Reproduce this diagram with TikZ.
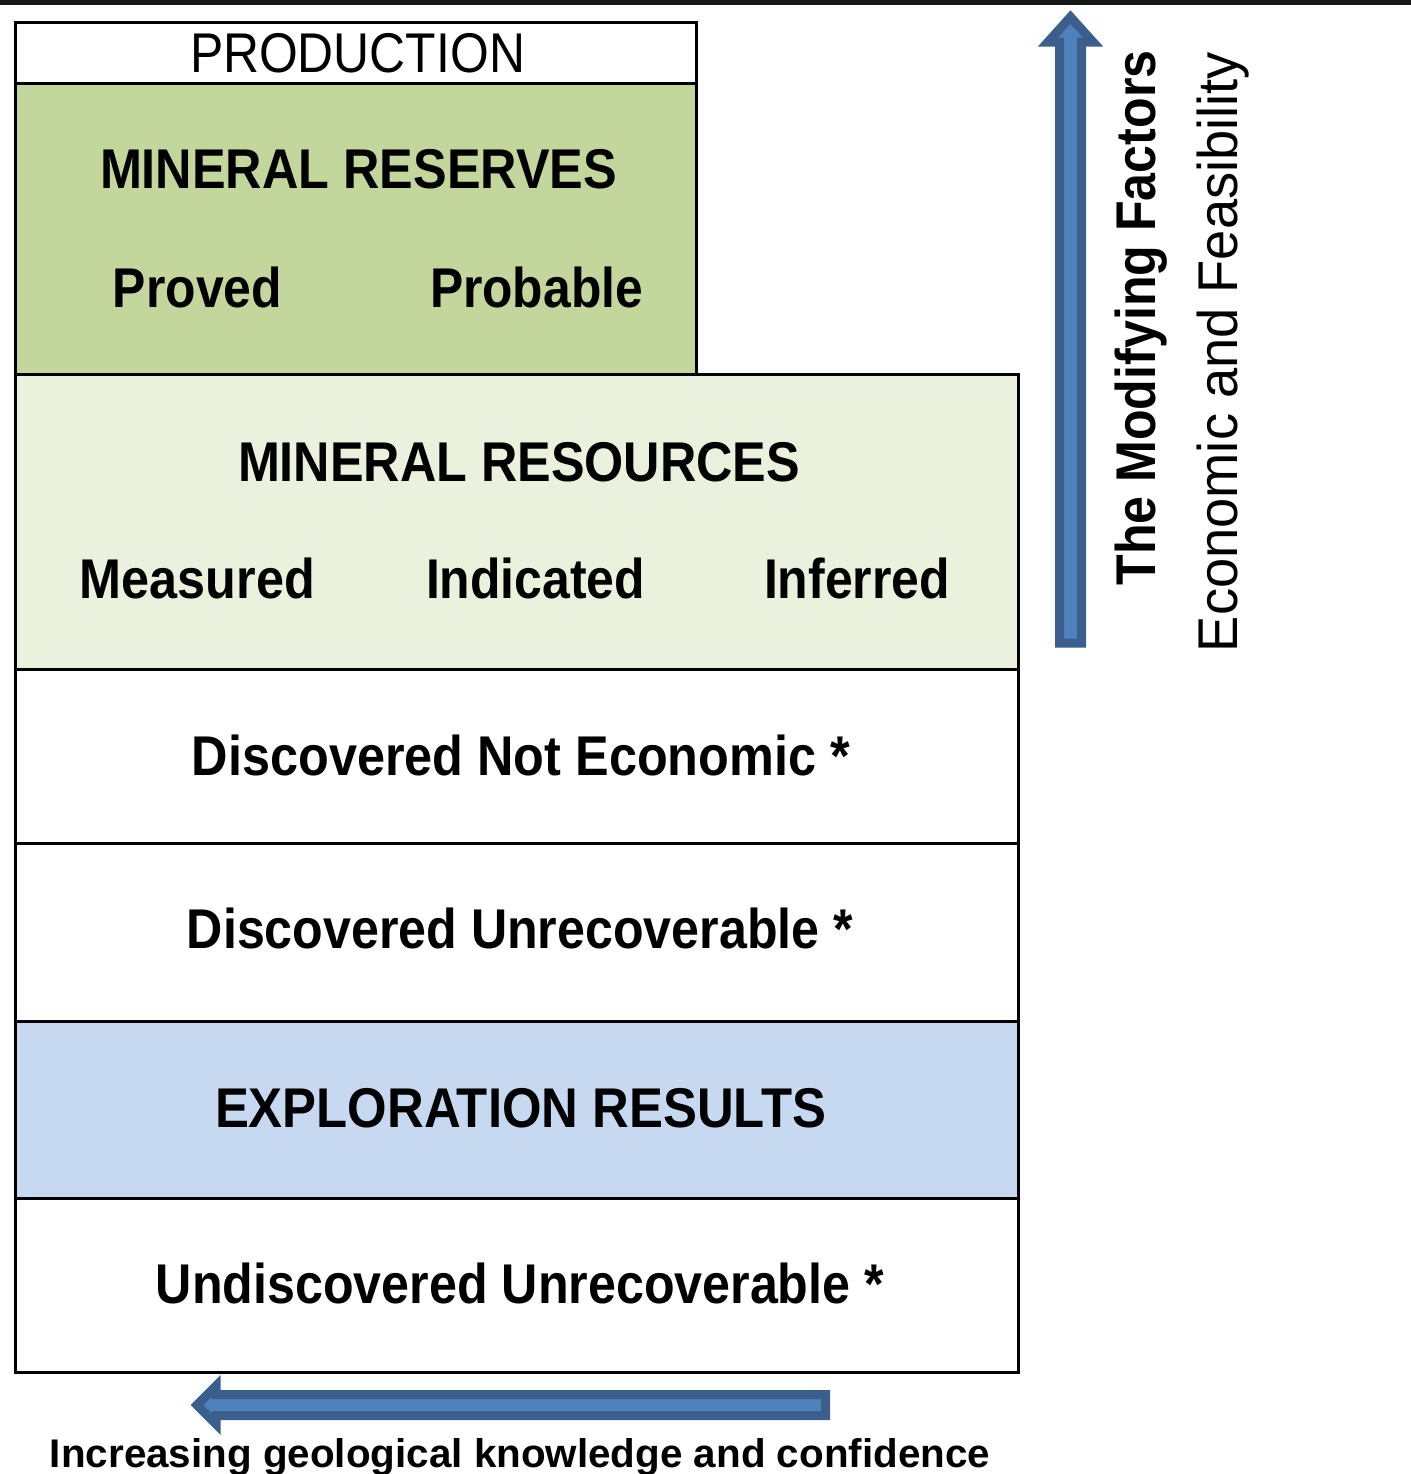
\documentclass[tikz,border=0pt]{standalone}
\usepackage{fontspec}
\setmainfont{Liberation Sans}
\usepackage{graphicx}
\definecolor{reservegreen}{HTML}{C3D69B}
\definecolor{resourcegreen}{HTML}{EAF1DD}
\definecolor{explblue}{HTML}{C6D9F1}
\definecolor{arrowfill}{HTML}{4F81BD}
\definecolor{arrowedge}{HTML}{3A5F8C}
\definecolor{topbar}{HTML}{141814}
\newcommand\fitw[2]{\resizebox{#1pt}{\height}{#2}}
\tikzset{
  box/.style={draw=black, line width=1.5pt, rectangle, inner sep=0pt},
  lbl/.style={inner sep=0pt, anchor=base, font=\fontsize{28}{30}\selectfont\bfseries},
  lblr/.style={inner sep=0pt, anchor=base, font=\fontsize{28}{30}\selectfont},
  blockarrow/.style={fill=arrowfill, draw=arrowedge, line width=4.5pt, line join=miter, miter limit=3},
}
\begin{document}
\begin{tikzpicture}[x=0.5pt,y=-0.5pt]
\useasboundingbox (0,0) rectangle (1411,1474);
\fill[topbar] (0,0) rectangle (1411,5);
% boxes
\node[box, fill=white, minimum width=340.5pt, minimum height=30.5pt] (prod) at (355.5,52.5) {};
\node[box, fill=reservegreen, minimum width=340.5pt, minimum height=145.5pt] (res) at (355.5,228.5) {};
\node[box, fill=resourcegreen, minimum width=501.5pt, minimum height=147.5pt] (resc) at (516.5,521.5) {};
\node[box, fill=white, minimum width=501.5pt, minimum height=87pt] (dne) at (516.5,756) {};
\node[box, fill=white, minimum width=501.5pt, minimum height=89pt] (du) at (516.5,932) {};
\node[box, fill=explblue, minimum width=501.5pt, minimum height=88.5pt] (expl) at (516.5,1109.5) {};
\node[box, fill=white, minimum width=501.5pt, minimum height=87pt] (udu) at (516.5,1285) {};
% texts
\node[lblr] (tprod) at (357.5,72) {\fitw{167.5}{PRODUCTION}};
\node[lbl] (tres) at (358.5,188) {\fitw{258.5}{MINERAL RESERVES}};
\node[lbl] (tprov) at (197.5,307) {\fitw{84.5}{Proved}};
\node[lbl] (tprob) at (536.5,307) {\fitw{106.5}{Probable}};
\node[lbl] (tresc) at (519,481) {\fitw{281}{MINERAL RESOURCES}};
\node[lbl] (tmeas) at (197.5,598) {\fitw{117.5}{Measured}};
\node[lbl] (tind) at (535.5,598) {\fitw{109.5}{Indicated}};
\node[lbl] (tinf) at (857,598) {\fitw{93}{Inferred}};
\node[lbl] (tdne) at (521,775) {\fitw{329}{Discovered Not Economic *}};
\node[lbl] (tdu) at (520,948) {\fitw{333}{Discovered Unrecoverable *}};
\node[lbl] (texpl) at (520.5,1127) {\fitw{305.5}{EXPLORATION RESULTS}};
\node[lbl] (tudu) at (520,1303) {\fitw{364}{Undiscovered Unrecoverable *}};
% vertical arrow
\coordinate (vtail) at (1070.5,643);
\coordinate (vtip) at (1070.5,17);
\filldraw[blockarrow] (1059.5,643) -- (1059.5,42) -- (1048,42) -- (vtip) -- (1093,42) -- (1081.5,42) -- (1081.5,643) -- cycle;
\node[lbl, rotate=90] (tmod) at (1155,318) {\fitw{267.5}{The Modifying Factors}};
\node[lblr, rotate=90] (teco) at (1237,352) {\fitw{300}{Economic and Feasibility}};
% horizontal arrow
\coordinate (htail) at (825.5,1405);
\coordinate (htip) at (197,1405);
\filldraw[blockarrow] (825.5,1394.5) -- (216,1394.5) -- (216,1386) -- (htip) -- (216,1424) -- (216,1415.5) -- (825.5,1415.5) -- cycle;
\node[lbl, font=\fontsize{20}{22}\selectfont\bfseries] (tinc) at (520,1467) {\fitw{470}{Increasing geological knowledge and confidence}};
\end{tikzpicture}
\end{document}
